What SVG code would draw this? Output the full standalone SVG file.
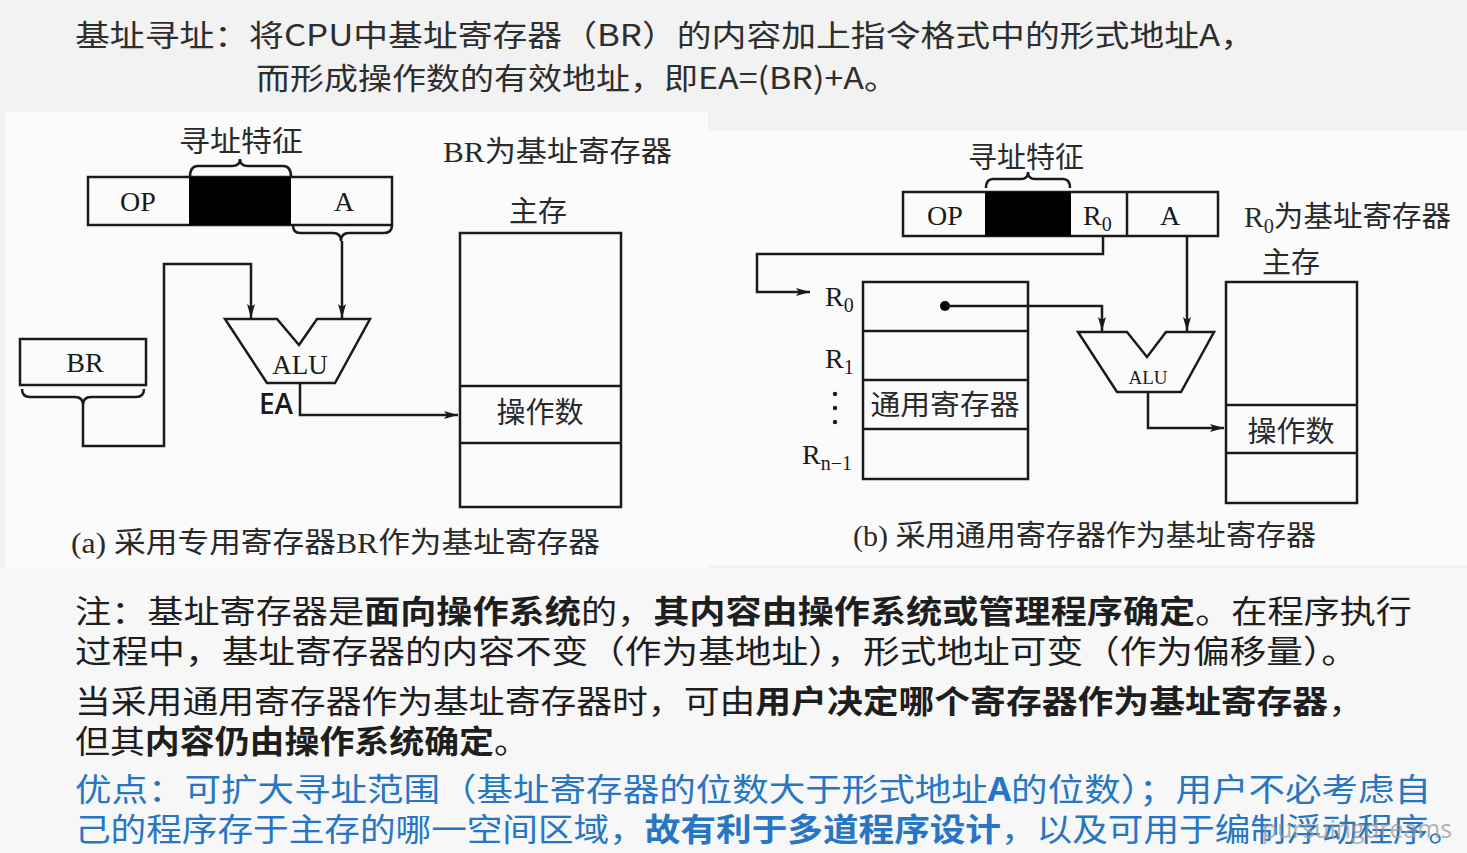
<svg xmlns="http://www.w3.org/2000/svg" width="1467" height="853" viewBox="0 0 1467 853">
<defs>
<marker id="ah" viewBox="0 0 14 8" refX="14" refY="4" markerWidth="14" markerHeight="8" markerUnits="userSpaceOnUse" orient="auto"><path d="M0,0 L14,4 L0,8 L3,4 Z" fill="#1a1a1a"/></marker>
<style>
.ln{fill:none;stroke:#1a1a1a;stroke-width:2.5}
.bx{fill:none;stroke:#1a1a1a;stroke-width:2.5}
.cj{font-family:"Noto Sans CJK SC","Liberation Serif",sans-serif;fill:#2a2a2a}
.sr{font-family:"Liberation Serif","Noto Sans CJK SC",serif;fill:#1a1a1a}
.tp{font-family:"Noto Sans CJK SC","Open Sans",sans-serif;fill:#2e2e2e;font-size:30px}
.nt{font-family:"Noto Sans CJK SC","Liberation Serif",sans-serif;fill:#1e1e1e;font-size:32px}
.bl{fill:#2676c4}
.b{font-weight:700}
</style>
</defs>
<rect x="0" y="0" width="1467" height="853" fill="#f2f2f2"/>
<rect x="5" y="112" width="703" height="456" fill="#fbfbfb"/>
<rect x="708" y="130" width="759" height="436" fill="#fbfbfb"/>
<rect x="0" y="568" width="1467" height="285" fill="#f7f7f7"/>

<g id="title">
<text class="tp" x="75" y="46" textLength="1180" lengthAdjust="spacingAndGlyphs">基址寻址：将CPU中基址寄存器（BR）的内容加上指令格式中的形式地址A，</text>
<text class="tp" x="256" y="89" textLength="642" lengthAdjust="spacingAndGlyphs">而形成操作数的有效地址，即EA=(BR)+A。</text>
</g>

<g id="a-feature-label"><text class="cj" x="241" y="152" font-size="29" text-anchor="middle" textLength="124" lengthAdjust="spacingAndGlyphs">寻址特征</text></g>
<g id="a-instruction">
<rect x="88" y="177" width="304" height="48" class="bx"/>
<rect x="189" y="177" width="102" height="48" fill="#000"/>
<text class="sr" x="138" y="211" font-size="28" text-anchor="middle">OP</text>
<text class="sr" x="344" y="211" font-size="28" text-anchor="middle">A</text>
</g>
<g id="a-brace-top"><path class="ln" d="M190,177 Q190,166 198,166 L232,166 Q240,166 240,159 Q240,166 248,166 L283,166 Q291,166 291,177"/></g>
<g id="a-br-label"><text class="cj" x="443" y="162" font-size="29" textLength="229" lengthAdjust="spacingAndGlyphs"><tspan style="font-family:'Liberation Serif',serif">BR</tspan>为基址寄存器</text></g>
<g id="a-br">
<rect x="20" y="339" width="126" height="46" class="bx"/>
<text class="sr" x="85" y="372" font-size="28" text-anchor="middle">BR</text>
</g>
<g id="a-alu">
<path class="bx" d="M225,319 L277,319 L299,345 L317,319 L370,319 L335,383 L267,383 Z"/>
<text class="sr" x="300" y="374" font-size="27" text-anchor="middle">ALU</text>
<text x="276" y="414" font-family="'Open Sans','Liberation Sans',sans-serif" font-size="28" font-weight="600" fill="#1a1a1a" text-anchor="middle">EA</text>
</g>
<g id="a-memory">
<text class="cj" x="538" y="222" font-size="29" text-anchor="middle">主存</text>
<rect x="460" y="233" width="161" height="274" class="bx"/>
<line x1="460" y1="386" x2="621" y2="386" class="ln"/>
<line x1="460" y1="443" x2="621" y2="443" class="ln"/>
<text class="cj" x="540" y="423" font-size="29" text-anchor="middle">操作数</text>
</g>
<g id="a-caption"><text class="cj" x="71" y="553" font-size="29" textLength="529" lengthAdjust="spacingAndGlyphs"><tspan style="font-family:'Liberation Serif',serif">(a) </tspan>采用专用寄存器<tspan style="font-family:'Liberation Serif',serif">BR</tspan>作为基址寄存器</text></g>

<g id="b-feature-label"><text class="cj" x="1026" y="168" font-size="29" text-anchor="middle" textLength="116" lengthAdjust="spacingAndGlyphs">寻址特征</text></g>
<g id="b-brace-top"><path class="ln" d="M986,188 Q986,179 993,179 L1021,179 Q1028,179 1028,172 Q1028,179 1035,179 L1063,179 Q1070,179 1070,188"/></g>
<g id="b-instruction">
<rect x="903" y="192" width="315" height="44" class="bx"/>
<rect x="985" y="192" width="86" height="44" fill="#000"/>
<line x1="1127" y1="192" x2="1127" y2="236" class="ln"/>
<text class="sr" x="945" y="225" font-size="28" text-anchor="middle">OP</text>
<text class="sr" x="1083" y="225" font-size="28">R<tspan font-size="20" dy="6">0</tspan></text>
<text class="sr" x="1170" y="225" font-size="28" text-anchor="middle">A</text>
</g>
<g id="b-r0-label"><text class="cj" x="1244" y="227" font-size="29" textLength="207" lengthAdjust="spacingAndGlyphs"><tspan style="font-family:'Liberation Serif',serif">R</tspan><tspan style="font-family:'Liberation Serif',serif" font-size="20" dy="6">0</tspan><tspan dy="-6">为基址寄存器</tspan></text></g>
<g id="b-registers">
<rect x="863" y="282" width="165" height="197" class="bx"/>
<line x1="863" y1="331" x2="1028" y2="331" class="ln"/>
<line x1="863" y1="380" x2="1028" y2="380" class="ln"/>
<line x1="863" y1="429" x2="1028" y2="429" class="ln"/>
<text class="cj" x="945" y="415" font-size="28" text-anchor="middle" textLength="149" lengthAdjust="spacingAndGlyphs">通用寄存器</text>
<text class="sr" x="825" y="306" font-size="28">R<tspan font-size="20" dy="6">0</tspan></text>
<text class="sr" x="825" y="368" font-size="28">R<tspan font-size="20" dy="6">1</tspan></text>
<circle cx="835" cy="394" r="2.2" fill="#1a1a1a"/>
<circle cx="835" cy="408" r="2.2" fill="#1a1a1a"/>
<circle cx="835" cy="422" r="2.2" fill="#1a1a1a"/>
<text class="sr" x="802" y="464" font-size="28">R<tspan font-size="20" dy="6">n−1</tspan></text>
<circle cx="945" cy="306" r="5" fill="#000"/>
</g>
<g id="b-alu">
<path class="bx" d="M1078,332 L1127,332 L1147,357 L1166,332 L1214,332 L1181,392 L1117,392 Z"/>
<text class="sr" x="1148" y="384" font-size="19" text-anchor="middle">ALU</text>
</g>
<g id="b-memory">
<text class="cj" x="1291" y="273" font-size="29" text-anchor="middle">主存</text>
<rect x="1226" y="282" width="131" height="221" class="bx"/>
<line x1="1226" y1="405" x2="1357" y2="405" class="ln"/>
<line x1="1226" y1="453" x2="1357" y2="453" class="ln"/>
<text class="cj" x="1291" y="442" font-size="29" text-anchor="middle">操作数</text>
</g>
<g id="b-caption"><text class="cj" x="853" y="546" font-size="29" textLength="463" lengthAdjust="spacingAndGlyphs"><tspan style="font-family:'Liberation Serif',serif">(b) </tspan>采用通用寄存器作为基址寄存器</text></g>

<g id="connectors">
<path class="ln" d="M293,225 Q293,233 300,233 L333,233 Q341,233 341,241 Q341,233 349,233 L384,233 Q392,233 392,225"/>
<path class="ln" d="M342,241 L342,318" marker-end="url(#ah)"/>
<path class="ln" d="M22,389 Q22,397 30,397 L75,397 Q83,397 83,405 Q83,397 91,397 L136,397 Q144,397 144,389"/>
<path class="ln" d="M83,405 L83,446 L164,446 L164,264 L251,264 L251,318" marker-end="url(#ah)"/>
<path class="ln" d="M300,383 L300,415 L458,415" marker-end="url(#ah)"/>
<path class="ln" d="M1103,236 L1103,254 L757,254 L757,292 L810,292" marker-end="url(#ah)"/>
<path class="ln" d="M945,306 L1102,306 L1102,331" marker-end="url(#ah)"/>
<path class="ln" d="M1187,236 L1187,331" marker-end="url(#ah)"/>
<path class="ln" d="M1148,392 L1148,428 L1224,428" marker-end="url(#ah)"/>
</g>

<g id="notes">
<text class="nt" x="75" y="623" textLength="1337" lengthAdjust="spacingAndGlyphs">注：基址寄存器是<tspan class="b">面向操作系统</tspan>的，<tspan class="b">其内容由操作系统或管理程序确定</tspan>。在程序执行</text>
<text class="nt" x="75" y="663" textLength="1283" lengthAdjust="spacingAndGlyphs">过程中，基址寄存器的内容不变（作为基地址），形式地址可变（作为偏移量）。</text>
<text class="nt" x="75" y="713" textLength="1289" lengthAdjust="spacingAndGlyphs">当采用通用寄存器作为基址寄存器时，可由<tspan class="b">用户决定哪个寄存器作为基址寄存器</tspan>，</text>
<text class="nt" x="75" y="753" textLength="454" lengthAdjust="spacingAndGlyphs">但其<tspan class="b">内容仍由操作系统确定</tspan>。</text>
<text class="nt bl" x="75" y="801" textLength="1356" lengthAdjust="spacingAndGlyphs">优点：可扩大寻址范围（基址寄存器的位数大于形式地址<tspan class="b">A</tspan>的位数）；用户不必考虑自</text>
<text class="nt bl" x="75" y="841" textLength="1389" lengthAdjust="spacingAndGlyphs">己的程序存于主存的哪一空间区域，<tspan class="b">故有利于多道程序设计</tspan>，以及可用于编制浮动程序。</text>
<text x="1262" y="838" font-family="'Open Sans','Liberation Sans',sans-serif" font-size="26" fill="#9a9a9a" fill-opacity="0.75" textLength="190" lengthAdjust="spacingAndGlyphs">pursuingdreams</text>
</g>
</svg>
